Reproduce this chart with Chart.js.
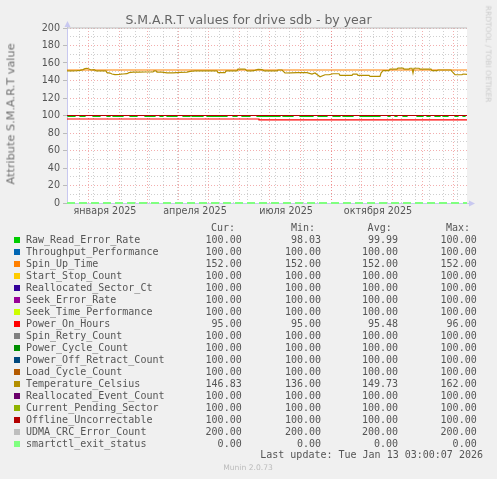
<!DOCTYPE html>
<html><head><meta charset="utf-8">
<script src="https://cdn.jsdelivr.net/npm/chart.js@4.4.1/dist/chart.umd.min.js"></script>
<style>
html,body{margin:0;padding:0;background:#f0f0f0;}
#wrap{position:relative;width:497px;height:479px;background:#f0f0f0;overflow:hidden;font-family:"DejaVu Sans",sans-serif;color:#555;}
#cbox{position:absolute;left:0;top:0;width:497px;height:226px;}
.t{position:absolute;white-space:pre;line-height:1;}
.c{transform:translate(-50%,-50%);}
.m{font-family:"DejaVu Sans Mono",monospace;font-size:10px;color:#555;}
.r{transform:translateY(-50%);}
.sq{position:absolute;width:6px;height:6px;}
</style></head><body>
<div id="wrap">
  <div id="cbox"><canvas id="c" width="497" height="226"></canvas></div>
  <div class="t c" style="left:248.5px;top:20px;font-size:12.5px;color:#666;">S.M.A.R.T values for drive sdb - by year</div>
  <div class="t" style="left:10.7px;top:114px;font-size:11.3px;color:#707070;transform:translate(-50%,-50%) rotate(-90deg);">Attribute S.M.A.R.T value</div>
  <div class="t" style="left:488px;top:53.5px;font-size:7.5px;color:#ccc;transform:translate(-50%,-50%) rotate(90deg);">RRDTOOL / TOBI OETIKER</div>
  <div id="legend"></div>
  <div class="t m r" style="right:14px;top:455px;">Last update: Tue Jan 13 03:00:07 2026</div>
  <div class="t c" style="left:248px;top:468px;font-size:7.6px;color:#bbb;">Munin 2.0.73</div>
</div>
<script>
// ---- data ----
const seriesNames = ["Raw_Read_Error_Rate","Throughput_Performance","Spin_Up_Time","Start_Stop_Count","Reallocated_Sector_Ct","Seek_Error_Rate","Seek_Time_Performance","Power_On_Hours","Spin_Retry_Count","Power_Cycle_Count","Power_Off_Retract_Count","Load_Cycle_Count","Temperature_Celsius","Reallocated_Event_Count","Current_Pending_Sector","Offline_Uncorrectable","UDMA_CRC_Error_Count","smartctl_exit_status"];
const seriesColors = ["#00CC00","#0066B3","#FF8000","#FFCC00","#330099","#990099","#CCFF00","#FF0000","#808080","#008F00","#00487D","#B35A00","#B38F00","#6B006B","#8FB300","#B30000","#BEBEBE","#80FF80"];
const curValues = ["100.00","100.00","152.00","100.00","100.00","100.00","100.00","95.00","100.00","100.00","100.00","100.00","146.83","100.00","100.00","100.00","200.00","0.00"];
const minValues = ["98.03","100.00","152.00","100.00","100.00","100.00","100.00","95.00","100.00","100.00","100.00","100.00","136.00","100.00","100.00","100.00","200.00","0.00"];
const avgValues = ["99.99","100.00","152.00","100.00","100.00","100.00","100.00","95.48","100.00","100.00","100.00","100.00","149.73","100.00","100.00","100.00","200.00","0.00"];
const maxValues = ["100.00","100.00","152.00","100.00","100.00","100.00","100.00","96.00","100.00","100.00","100.00","100.00","162.00","100.00","100.00","100.00","200.00","0.00"];
// constant level of each series over the whole period (null = given separately below)
const constLevels = [null,100,152,100,100,100,100,null,100,100,100,100,null,100,100,100,200,0];
const dayRange = [0, 400]; // days shown (Dec 11 2024 .. Jan 13 2026)
// Raw_Read_Error_Rate: 100, with dips to rawReadDipValue in these day ranges
const rawReadDipValue = 99;
const rawReadDips = [[1,8],[13,18],[26,33],[40,43],[46,56],[63,70],[78,88],[93,96],[100,110],[116,123],[125,136],[140,160],[166,170],[175,183],[190,213],[216,226],[233,246],[251,260],[266,273],[276,286],[293,313],[321,323],[328,330],[336,340],[350,356],[360,363],[368,373],[376,381],[388,391],[396,398]];
// Power_On_Hours [day, value]
const powerOnHours = [[0,96],[192,96],[192,95],[400,95]];
// Temperature_Celsius [day, value]
const temperature = [[0,151],[5,151],[10,151.2],[13,151.5],[16,152.5],[18,153.5],[20,154],[22,153.2],[24,152],[27,152.5],[29,151],[34,151],[39,151],[40,149],[43,148.5],[45,147.4],[48,146.8],[52,147],[56,147.4],[60,147.8],[62,149],[66,149.5],[72,149.5],[78,149.7],[86,149.7],[87,151],[89,151],[90,149.5],[95,149.5],[100,148.8],[106,148.8],[113,149.3],[120,149.5],[123,150.5],[128,151],[133,151],[140,151],[150,151],[151,149],[155,148.9],[158,149],[159,151],[165,151],[170,151],[171,153],[178,153],[180,151],[185,151],[188,151.5],[191,152.7],[195,152.5],[197,151],[205,151],[210,151],[211,152],[215,152],[218,148.6],[224,148.8],[230,149],[240,149],[245,147.4],[248,148.6],[253,144.3],[258,146.6],[262,146.6],[266,147.7],[272,147.7],[273,145.9],[285,145.9],[286,147.4],[290,147.4],[291,145.9],[302,145.9],[303,144.7],[313,144.7],[314,148.5],[316,151.2],[322,151.2],[323,153.1],[330,153.1],[331,154.2],[336,154.2],[337,153.1],[342,153.1],[343,154],[345,154],[346,148.5],[347,154],[352,154],[353,153],[364,153],[365,151.2],[370,151.2],[371,152],[384,152],[385,150.5],[388,146.6],[395,146.6],[396,147.4],[400,147]];
// x axis
const monthStartDays = [21,52,80,111,141,172,202,233,264,294,325,355,386];
const minorGridDays = [12,26,40,54,68,82,96,110,124,138,152,166,180,194,208,222,236,250,264,278,292,306,320,334,348,362,376,390];
const xLabelDays = [21,111,202,294];
const xLabels = ["января 2025","апреля 2025","июля 2025","октября 2025"];
// y axis
const yMin = 0, yMax = 200, yMinorStep = 10, yMajorStep = 20;

// ---- legend ----
const leg = document.getElementById('legend');
function addText(txt, right, top, cls){
  const d=document.createElement('div'); d.className='t m r '+(cls||''); d.textContent=txt;
  d.style.right=(497-right)+'px'; d.style.top=top+'px'; leg.appendChild(d);
}
[["Cur:",235],["Min:",315],["Avg:",391.7],["Max:",470]].forEach(h=>addText(h[0],h[1],228));
seriesNames.forEach((n,i)=>{
  const y=239.7+12*i;
  const sq=document.createElement('div'); sq.className='sq'; sq.style.left='14px'; sq.style.top=(y-3)+'px'; sq.style.background=seriesColors[i]; leg.appendChild(sq);
  const d=document.createElement('div'); d.className='t m r'; d.textContent=n; d.style.left='26px'; d.style.top=y+'px'; leg.appendChild(d);
  addText(curValues[i],241.7,y); addText(minValues[i],321,y); addText(avgValues[i],398,y); addText(maxValues[i],476.7,y);
});

// ---- datasets ----
function seriesData(i){
  if(i===0){
    const pts=[{x:dayRange[0],y:100}];
    rawReadDips.forEach(([a,b])=>{pts.push({x:a,y:100},{x:a,y:rawReadDipValue},{x:b,y:rawReadDipValue},{x:b,y:100});});
    pts.push({x:dayRange[1],y:100}); return pts;
  }
  if(i===7) return powerOnHours.map(p=>({x:p[0],y:p[1]}));
  if(i===12) return temperature.map(p=>({x:p[0],y:p[1]}));
  return dayRange.map(d=>({x:d,y:constLevels[i]}));
}
const datasets = seriesNames.map((n,i)=>({
  label:n, data:seriesData(i), borderColor:seriesColors[i], backgroundColor:seriesColors[i],
  borderWidth: i===17 ? 2 : 1.2, pointRadius:0, tension:0, fill:false, clip:3,
  order: seriesNames.length - i,
  borderDash: i===17 ? [8,4] : []
}));

const majorColor='rgba(235,120,120,0.6)', minorColor='#cfcfcf', axisColor='#c8c8f0';
const axisPlugin={
  id:'axes',
  beforeDatasetsDraw(chart){
    const {ctx,chartArea:a}=chart; ctx.save();
    ctx.strokeStyle=axisColor; ctx.fillStyle=axisColor; ctx.lineWidth=1;
    ctx.beginPath(); ctx.moveTo(a.left+0.5,a.bottom); ctx.lineTo(a.left+0.5,a.top-5); ctx.stroke();
    ctx.beginPath(); ctx.moveTo(a.left,a.bottom+0.5); ctx.lineTo(a.right+4,a.bottom+0.5); ctx.stroke();
    ctx.beginPath(); ctx.moveTo(a.left-2.5,a.top-1); ctx.lineTo(a.left+3.5,a.top-1); ctx.lineTo(a.left+0.5,a.top-7); ctx.closePath(); ctx.fill();
    ctx.beginPath(); ctx.moveTo(a.right+2,a.bottom-2.5); ctx.lineTo(a.right+2,a.bottom+3.5); ctx.lineTo(a.right+8,a.bottom+0.5); ctx.closePath(); ctx.fill();
    ctx.restore();
  }
};
const bgPlugin={id:'bg',beforeDraw(chart){const {ctx,chartArea:a}=chart;ctx.save();ctx.fillStyle='#fff';ctx.fillRect(a.left,a.top,a.right-a.left,a.bottom-a.top);ctx.restore();}};

new Chart(document.getElementById('c'),{
  type:'line',
  data:{datasets},
  plugins:[bgPlugin,axisPlugin],
  options:{
    responsive:false, animation:false, events:[],
    layout:{padding:{top:28,right:30,left:0,bottom:0}},
    plugins:{legend:{display:false},tooltip:{enabled:false},title:{display:false}},
    scales:{
      x:{type:'linear',min:dayRange[0],max:dayRange[1],
        afterBuildTicks(s){ s.ticks=[...monthStartDays,...minorGridDays].sort((a,b)=>a-b).map(v=>({value:v})); },
        afterFit(s){ s.height=23; },
        ticks:{autoSkip:false,maxRotation:0,labelOffset:17,padding:3,color:'#555',font:{family:'DejaVu Sans',size:9.6},
          callback(v){ const k=xLabelDays.indexOf(v); return k>=0?xLabels[k]:''; }},
        grid:{drawTicks:false,lineWidth:1,color(c){return monthStartDays.includes(c.tick.value)?majorColor:minorColor;}},
        border:{display:false,dash:[1,2]}
      },
      y:{type:'linear',min:yMin,max:yMax,
        afterFit(s){ s.width=67; },
        ticks:{stepSize:yMinorStep,autoSkip:false,padding:3,color:'#555',font:{family:'DejaVu Sans',size:9.6},
          callback(v){ return v%yMajorStep===0?String(v):''; }},
        grid:{drawTicks:true,tickLength:4,lineWidth:1,
          color(c){return c.tick.value%yMajorStep===0?majorColor:minorColor;},
          tickColor(c){return c.tick.value%yMajorStep===0?'#bbb':'rgba(0,0,0,0)';}},
        border:{display:false,dash:[1,2]}
      }
    }
  }
});
</script>
</body></html>
